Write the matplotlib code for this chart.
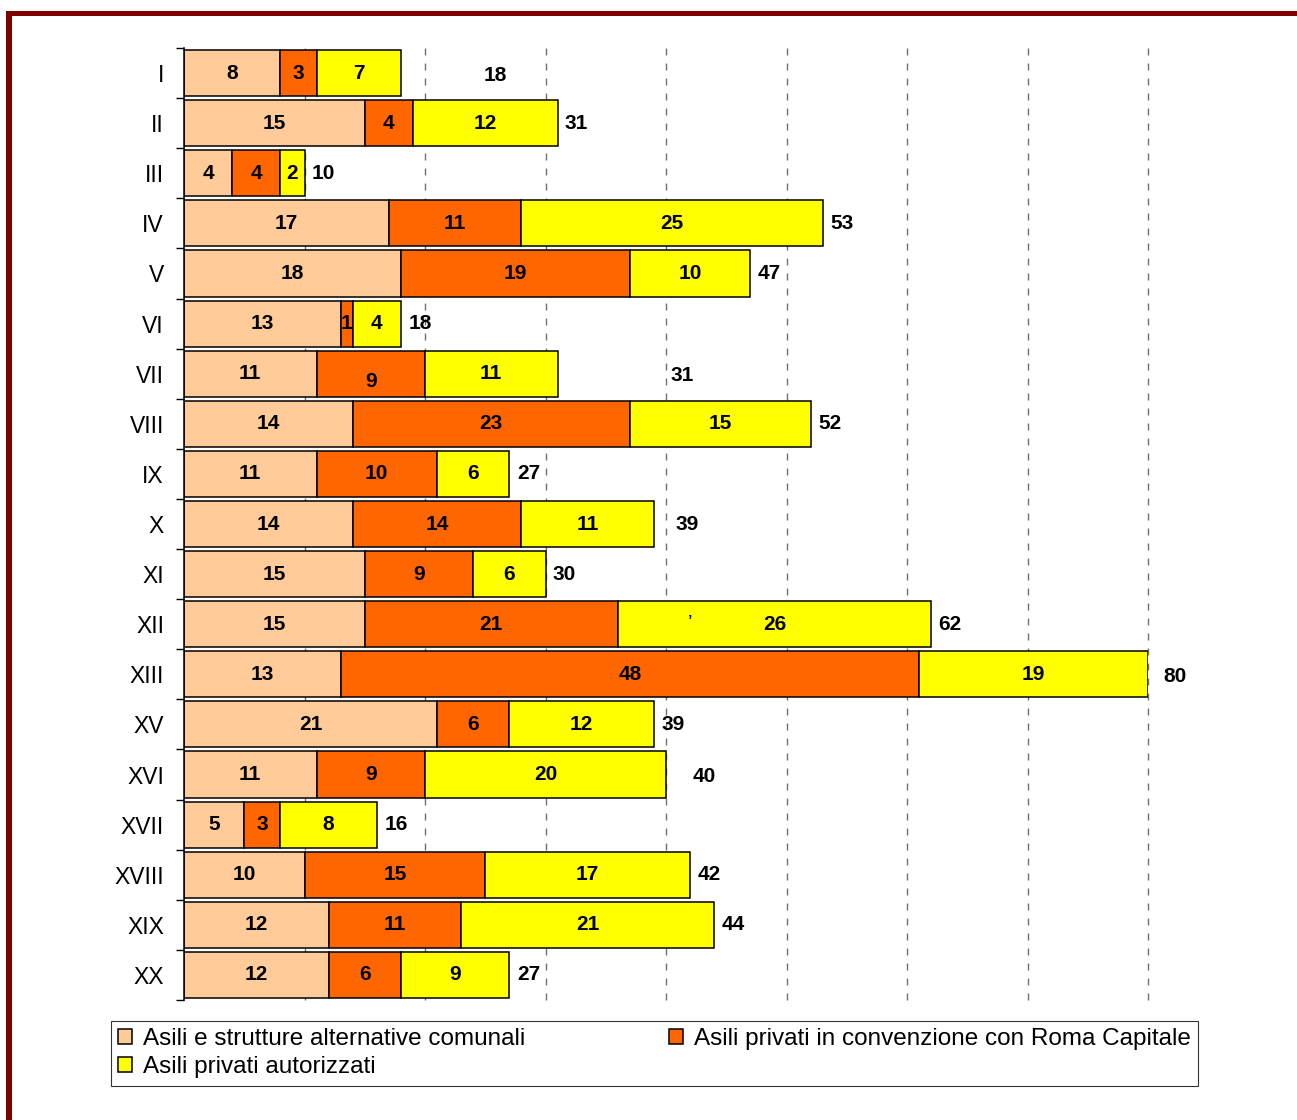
import matplotlib
matplotlib.use("Agg")
import matplotlib.pyplot as plt
from matplotlib.patches import Rectangle, Patch

plt.rcParams['font.family'] = ['Liberation Sans', 'DejaVu Sans']
plt.rcParams['lines.scale_dashes'] = False

municipi = ["I", "II", "III", "IV", "V", "VI", "VII", "VIII", "IX", "X",
            "XI", "XII", "XIII", "XV", "XVI", "XVII", "XVIII", "XIX", "XX"]
comunali = [8, 15, 4, 17, 18, 13, 11, 14, 11, 14, 15, 15, 13, 21, 11, 5, 10, 12, 12]
convenzione = [3, 4, 4, 11, 19, 1, 9, 23, 10, 14, 9, 21, 48, 6, 9, 3, 15, 11, 6]
autorizzati = [7, 12, 2, 25, 10, 4, 11, 15, 6, 11, 6, 26, 19, 12, 20, 8, 17, 21, 9]

series_names = ["Asili e strutture alternative comunali",
                "Asili privati in convenzione con Roma Capitale",
                "Asili privati autorizzati"]
series_colors = ["#FFCC99", "#FF6600", "#FFFF00"]

# label nudges (points): totals placed by hand in a few rows
total_dx = [54, 0, 0, 0, 0, 0, 76, 0, 0, 10, 0, 0, 6, 0, 14, 0, 0, 0, 0]
total_dy = [-1.5, 0, 0, 0, 0, 0, -1.5, 0, 0, 0, 0, 0, -1.5, 0, -1.5, 0, 0, 0, 0]

W, H = 1297, 1120
fig = plt.figure(figsize=(W / 100, H / 100), dpi=100)
fig.patch.set_facecolor("white")

# dark red frame (left and top edges)
frame_col = "#7F0000"
fig.add_artist(Rectangle((6 / W, 0), 6 / W, 1 - 11 / H, transform=fig.transFigure,
                         facecolor=frame_col, edgecolor="none"))
fig.add_artist(Rectangle((6 / W, 1 - 16 / H), 1, 5 / H, transform=fig.transFigure,
                         facecolor=frame_col, edgecolor="none"))

ax = fig.add_axes([184 / W, 1 - 1000 / H, (1148 - 184) / W, (1000 - 48) / H])
ax.set_xlim(0, 80)
ax.set_ylim(len(municipi) - 0.5, -0.5)

ypos = list(range(len(municipi)))
series = [comunali, convenzione, autorizzati]
left = [0] * len(municipi)
z = 2
for k, vals in enumerate(series):
    ax.barh(ypos, vals, left=left, height=0.92, color=series_colors[k],
            edgecolor="black", linewidth=1.1, zorder=z)
    for i, v in enumerate(vals):
        dy = -5.8 if (k == 1 and municipi[i] == "VII") else 0
        ax.annotate(str(v), (left[i] + v / 2, i), xytext=(0, dy),
                    textcoords="offset points", ha="center", va="center",
                    fontsize=15, fontweight="bold", zorder=z + 1)
    left = [l + v for l, v in zip(left, vals)]
    z += 2

for i, tot in enumerate(left):
    ax.annotate(str(tot), (tot, i), xytext=(13.7 + total_dx[i], total_dy[i]),
                textcoords="offset points", ha="center", va="center",
                fontsize=15, fontweight="bold", zorder=10)

ax.annotate("\u2019", (42, municipi.index("XII")), xytext=(0, 3),
            textcoords="offset points", ha="center", va="center",
            fontsize=11, fontweight="bold", zorder=10)

# dashed vertical grid
ax.set_xticks(range(10, 81, 10))
ax.xaxis.grid(True, color="#707070", linewidth=1.0, linestyle=(0, (5, 5.8)), zorder=0)
for gl in ax.get_xgridlines():
    gl.set_clip_on(False)
ax.set_axisbelow(True)
ax.tick_params(axis="x", length=0, labelbottom=False)

ax.set_yticks(ypos)
ax.set_yticklabels(municipi, fontsize=16.5, va="center_baseline")
ax.set_yticks([i - 0.5 for i in range(len(municipi) + 1)], minor=True)
ax.tick_params(axis="y", which="major", length=0, pad=14.4)
ax.tick_params(axis="y", which="minor", length=5.8, width=1, direction="out")

for s in ["top", "right", "bottom"]:
    ax.spines[s].set_visible(False)
ax.spines["left"].set_linewidth(1.1)
ax.set_facecolor("none")

handles = [Patch(facecolor=series_colors[0], edgecolor="black", linewidth=1.1),
           Patch(facecolor=series_colors[2], edgecolor="black", linewidth=1.1),
           Patch(facecolor=series_colors[1], edgecolor="black", linewidth=1.1)]
labels = [series_names[0], series_names[2], series_names[1]]
leg = fig.legend(handles, labels, loc="upper left", ncol=2, mode="expand",
                 bbox_to_anchor=(111 / W, 1 - 1087 / H, (1198 - 111) / W, 66 / H),
                 fontsize=17.5, frameon=True, fancybox=False, shadow=False,
                 handlelength=0.58, handleheight=0.58, handletextpad=0.45,
                 labelspacing=0.25, borderpad=0.3, borderaxespad=0)
leg.get_frame().set_edgecolor("black")
leg.get_frame().set_linewidth(0.8)

fig.savefig("out.png", dpi=100)
